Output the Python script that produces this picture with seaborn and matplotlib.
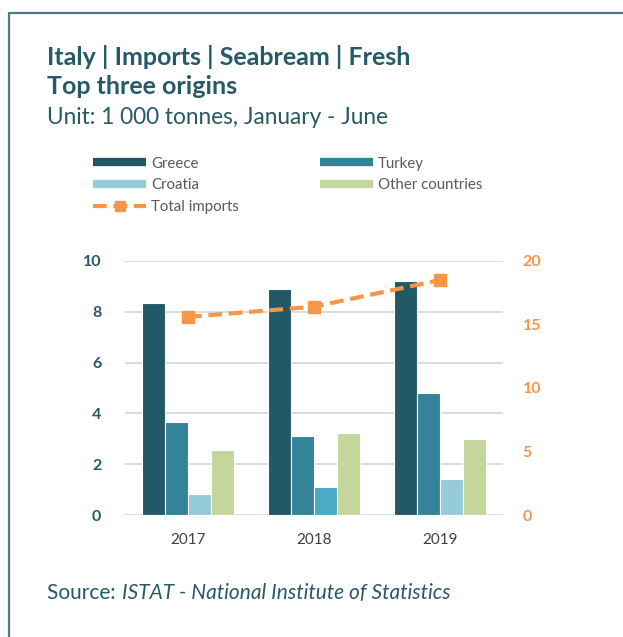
import pandas as pd
import matplotlib.pyplot as plt
from matplotlib.lines import Line2D
import seaborn as sns

# Data (1 000 tonnes, January - June)
years = ['2017', '2018', '2019']
greece = [8.33, 8.89, 9.20]
turkey = [3.67, 3.11, 4.80]
croatia = [0.84, 1.10, 1.40]
other = [2.54, 3.22, 2.98]
total = [15.6, 16.4, 18.5]

origins = ['Greece', 'Turkey', 'Croatia', 'Other countries']
colors = {'Greece': '#225966', 'Turkey': '#338399',
          'Croatia': '#96CCDA', 'Other countries': '#C5D69C'}
orange = '#F79646'
teal = '#255A66'

df = pd.DataFrame({
    'Year': years * 4,
    'Origin': [o for o in origins for _ in years],
    'Value': greece + turkey + croatia + other,
})

sns.set_style('white')
plt.rcParams['font.family'] = ['Lato', 'DejaVu Sans']

fig = plt.figure(figsize=(6.23, 6.37), dpi=100)
ax = fig.add_axes([0.2006, 0.1915, 0.6068, 0.3988])

sns.barplot(data=df, x='Year', y='Value', hue='Origin', hue_order=origins,
            palette=colors, saturation=1, width=0.73, edgecolor='white',
            linewidth=0.8, legend=False, ax=ax)

# Croatia 2018 drawn in a brighter blue in the original
ax.containers[2][1].set_facecolor('#4BAAC4')

ax.set_xlim(-0.5, 2.5)
ax.set_ylim(0, 10)
ax.set_yticks([0, 2, 4, 6, 8, 10])
ax.yaxis.grid(True, color='#D9D9D9', linewidth=1.3)
ax.set_axisbelow(True)
for s in ax.spines.values():
    s.set_visible(False)
ax.set_xlabel('')
ax.set_ylabel('')
ax.tick_params(axis='y', length=0, pad=17, labelsize=11.5, labelcolor=teal)
ax.tick_params(axis='x', length=0, pad=13, labelsize=11, labelcolor='#404040')
for t in ax.get_yticklabels():
    t.set_fontweight('bold')

ax2 = ax.twinx()
ax2.plot(range(len(years)), total, color=orange, lw=3, dashes=(3.3, 1.6),
         marker='s', markersize=8, zorder=5)
ax2.set_ylim(0, 20)
ax2.set_yticks([0, 5, 10, 15, 20])
for s in ax2.spines.values():
    s.set_visible(False)
ax2.tick_params(axis='y', length=0, pad=14, labelsize=11.5, labelcolor=orange)
for t in ax2.get_yticklabels():
    t.set_fontweight('bold')

# Legend (order gives rows: Greece|Turkey, Croatia|Other, Total)
h = {o: Line2D([], [], color=colors[o], lw=6, solid_capstyle='butt') for o in origins}
h_tot = Line2D([], [], color=orange, lw=3, dashes=(3.3, 1.6), marker='s', markersize=7)
fig.legend([h['Greece'], h['Croatia'], h_tot, h['Turkey'], h['Other countries']],
           ['Greece', 'Croatia', 'Total imports', 'Turkey', 'Other countries'],
           ncol=2, loc='upper left', bbox_to_anchor=(0.138, 0.766),
           frameon=False, fontsize=10.8, labelcolor='#595959',
           handlelength=3.5, handletextpad=0.35, columnspacing=5.4,
           labelspacing=0.52, borderpad=0)

# Titles and source
fig.text(0.076, 0.911, 'Italy | Imports | Seabream | Fresh', fontsize=18,
         fontweight='bold', color=teal, va='center')
fig.text(0.076, 0.864, 'Top three origins', fontsize=18,
         fontweight='bold', color=teal, va='center')
fig.text(0.076, 0.816, 'Unit: 1 000 tonnes, January - June', fontsize=16.3,
         color=teal, va='center')
fig.text(0.076, 0.059, 'Source: ', fontsize=15, color=teal, va='baseline')
fig.text(0.196, 0.059, 'ISTAT - National Institute of Statistics', fontsize=15,
         color=teal, va='baseline', style='italic')

# Frame
fig.add_artist(Line2D([0.014, 1.0], [0.979, 0.979], color='#4D7A87', lw=1.6))
fig.add_artist(Line2D([0.014, 0.014], [0.0, 0.979], color='#4D7A87', lw=1.6))

fig.savefig('out.png', dpi=100)
